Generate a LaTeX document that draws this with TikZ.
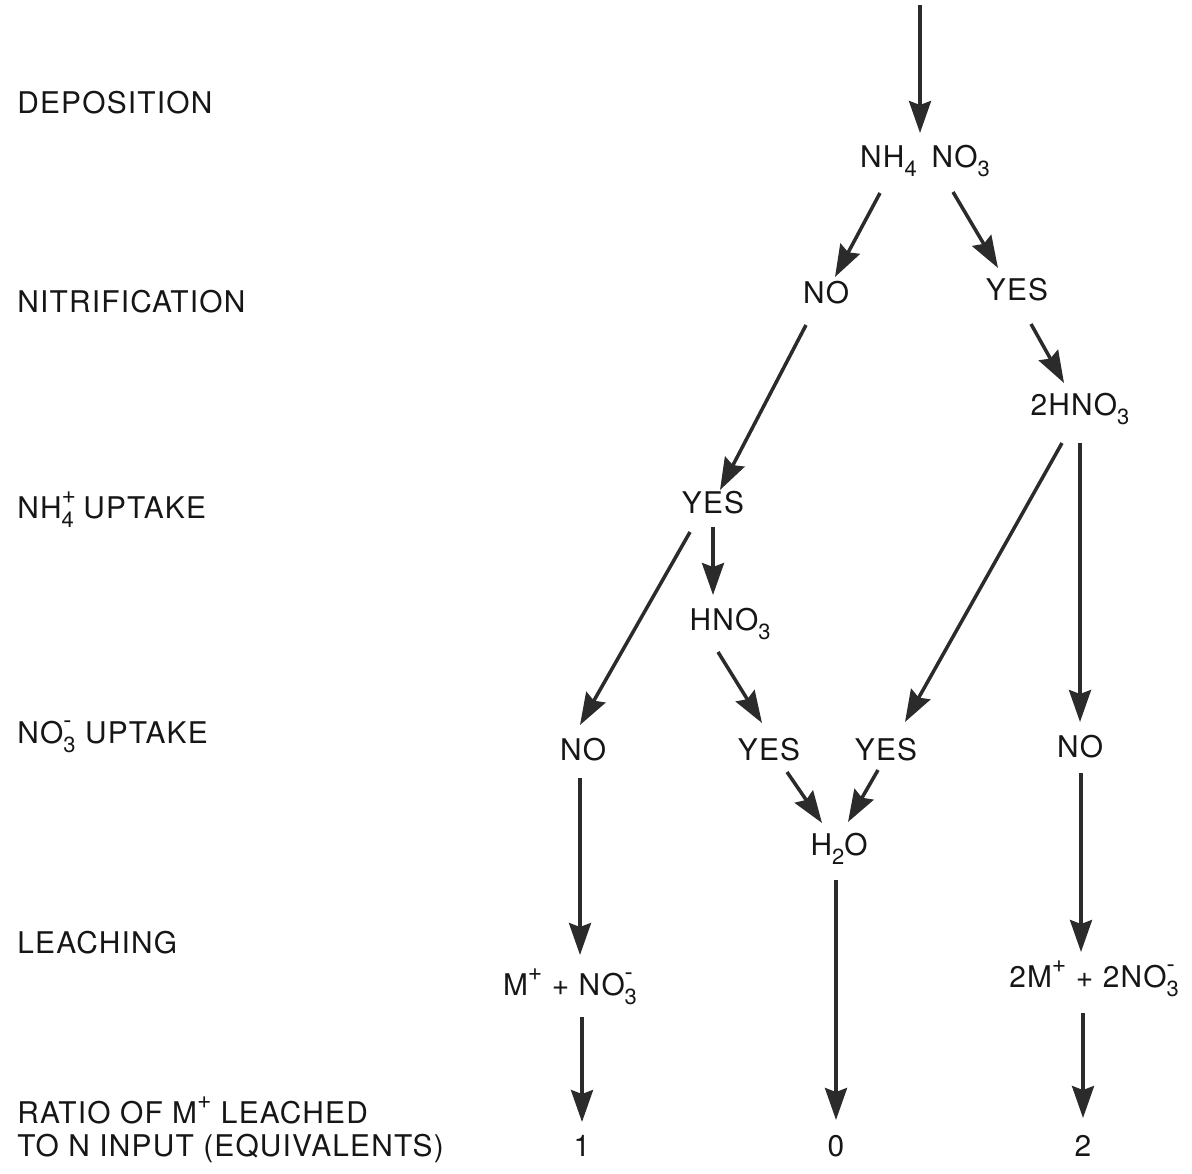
\documentclass[tikz,border=0pt]{standalone}
\usepackage{fontspec}
\setmainfont[LetterSpace=4]{TeX Gyre Heros}
\usepackage{tikz}
\usetikzlibrary{arrows.meta,calc,positioning}
\definecolor{ink}{HTML}{161616}
\definecolor{arrowink}{HTML}{2B2B2B}
\newcommand\chsub[1]{\raisebox{-0.33em}{\fontsize{12.5}{13}\selectfont #1}}
\newcommand\chsup[1]{\raisebox{0.5em}{\fontsize{14}{14}\selectfont #1}}
\newcommand\chion[2]{\makebox[0pt][l]{\chsup{#2}}\chsub{#1}}

\begin{document}
\begin{tikzpicture}[x=0.02cm,y=-0.02cm,
  lbl/.style={anchor=base west,inner sep=0pt,text=ink,font=\fontsize{17}{20}\selectfont},
  st/.style={anchor=base,inner sep=0pt,text=ink,font=\fontsize{17}{20}\selectfont},
  flow/.style={-{Stealth[length=0.64cm,width=0.44cm,inset=0.08cm]},line width=2pt,arrowink}]
\useasboundingbox (0,0) rectangle (1192,1173);
% row labels
\node[lbl] (dep) at (17,113) {DEPOSITION};
\node[lbl] (nit) at (17,312) {NITRIFICATION};
\node[lbl] (nhu) at (17,518) {NH\chion{4}{+} UPTAKE};
\node[lbl] (nou) at (17,743) {NO\chion{3}{-} UPTAKE};
\node[lbl] (lea) at (17,953) {LEACHING};
\node[lbl] (rat1) at (17,1123) {RATIO OF M\chsup{+} LEACHED};
\node[lbl] (rat2) at (17,1156) {TO N INPUT (EQUIVALENTS)};
% states
\coordinate (src) at (920,5);
\node[st] (nn) at (925,167) {NH\chsub{4}\hspace{0.5em}NO\chsub{3}};
\node[st] (nitno) at (826,303) {NO};
\node[st] (nityes) at (1017,300) {YES};
\node[st] (hno2) at (1080,415) {2HNO\chsub{3}};
\node[st] (uyes) at (713,513) {YES};
\node[st] (hno) at (730,630) {HNO\chsub{3}};
\node[st] (lno) at (583,760) {NO};
\node[st] (myes) at (769,760) {YES};
\node[st] (ryes) at (886,760) {YES};
\node[st] (rno) at (1080,757) {NO};
\node[st] (h2o) at (839,855) {H\chsub{2}O};
\node[st] (mno) at (570,995) {M\chsup{+} + NO\chion{3}{-}};
\node[st] (mno2) at (1094,987) {2M\chsup{+} + 2NO\chion{3}{-}};
\node[st] (d1) at (582,1156) {1};
\node[st] (d0) at (836,1156) {0};
\node[st] (d2) at (1083,1156) {2};
% arrows
\draw[flow] (src) -- ($(nn.base)+(-5,-34)$);
\draw[flow] ($(nn.base)+(-45,26)$) -- ($(nitno.base)+(9,-26)$);
\draw[flow] ($(nn.base)+(28,25)$) -- ($(nityes.base)+(-19,-32)$);
\draw[flow] ($(nitno.base)+(-20,22)$) -- ($(uyes.base)+(7,-23)$);
\draw[flow] ($(nityes.base)+(14,24)$) -- ($(hno2.base)+(-16,-32)$);
\draw[flow] ($(hno2.base)+(-18,28)$) -- ($(ryes.base)+(19,-38)$);
\draw[flow] ($(hno2.base)+(0,28)$) -- ($(rno.base)+(0,-35)$);
\draw[flow] ($(uyes.base)+(-23,19)$) -- ($(lno.base)+(-3,-35)$);
\draw[flow] ($(uyes.base)+(0,14)$) -- ($(hno.base)+(-17,-35)$);
\draw[flow] ($(hno.base)+(-12,22)$) -- ($(myes.base)+(-7,-37)$);
\draw[flow] ($(myes.base)+(18,12)$) -- ($(h2o.base)+(-17,-32)$);
\draw[flow] ($(ryes.base)+(-8,10)$) -- ($(h2o.base)+(9,-33)$);
\draw[flow] ($(lno.base)+(-3,18)$) -- ($(mno.base)+(10,-40)$);
\draw[flow] ($(h2o.base)+(-3,25)$) -- ($(d0.base)+(0,-36)$);
\draw[flow] ($(rno.base)+(1,16)$) -- ($(mno2.base)+(-13,-35)$);
\draw[flow] ($(mno.base)+(12,22)$) -- ($(d1.base)+(0,-34)$);
\draw[flow] ($(mno2.base)+(-11,26)$) -- ($(d2.base)+(0,-38)$);
\end{tikzpicture}
\end{document}
